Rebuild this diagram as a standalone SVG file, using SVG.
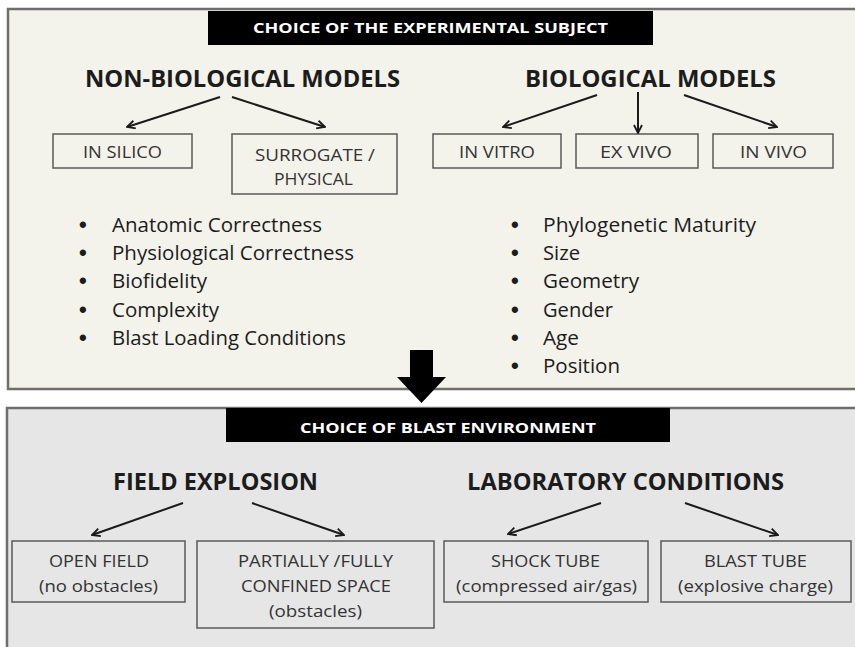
<svg xmlns="http://www.w3.org/2000/svg" width="855" height="647" viewBox="0 0 855 647">
<defs>
<marker id="ah" viewBox="0 0 10 10" refX="9" refY="5" markerWidth="10" markerHeight="10" markerUnits="userSpaceOnUse" orient="auto">
<path d="M1,1 L9,5 L1,9" fill="none" stroke="#1a1a1a" stroke-width="1.8" stroke-linejoin="miter"/>
</marker>
</defs>
<style>
text{font-family:"Open Sans",Lato,"Liberation Sans",sans-serif;fill:#1c1c1c}
.hdr{font-weight:bold;font-size:13.5px;fill:#fff}
.ttl{font-weight:bold;font-size:23.5px}
.box{fill:none;stroke:#5a5a5a;stroke-width:1.5}
.bt{font-size:16.5px;fill:#333}
.li{font-size:20px}
.bul{font-family:"Liberation Sans",sans-serif;font-size:22px;font-weight:bold}
.con line{stroke:#1a1a1a;stroke-width:2;marker-end:url(#ah)}
</style>
<rect width="855" height="647" fill="#ffffff"/>
<g id="panel-subject">
<rect x="8" y="9" width="852" height="380" fill="#f3f2eb" stroke="#6e6e6e" stroke-width="2.5"/>
<rect x="208" y="11" width="445" height="34" fill="#000"/>
<text class="hdr" x="430.5" y="33" text-anchor="middle" textLength="355" lengthAdjust="spacingAndGlyphs">CHOICE OF THE EXPERIMENTAL SUBJECT</text>
</g>
<g id="panel-blast">
<rect x="7" y="408" width="853" height="245" fill="#e6e6e6" stroke="#6e6e6e" stroke-width="2.5"/>
<rect x="226" y="408" width="444" height="34" fill="#000"/>
<text class="hdr" x="448" y="433" text-anchor="middle" textLength="296" lengthAdjust="spacingAndGlyphs">CHOICE OF BLAST ENVIRONMENT</text>
</g>
<g id="big-arrow">
<polygon points="410,350 433,350 433,377 446,377 421.5,403 397,377 410,377" fill="#000"/>
</g>
<g id="non-bio">
<text class="ttl" x="85" y="87" textLength="315" lengthAdjust="spacingAndGlyphs">NON-BIOLOGICAL MODELS</text>
</g>
<g id="bio">
<text class="ttl" x="525" y="87" textLength="251" lengthAdjust="spacingAndGlyphs">BIOLOGICAL MODELS</text>
</g>
<g id="in-silico">
<rect class="box" x="53" y="134" width="139" height="34"/>
<text class="bt" x="83" y="158" textLength="79" lengthAdjust="spacingAndGlyphs">IN SILICO</text>
</g>
<g id="surrogate">
<rect class="box" x="232" y="134" width="165" height="60"/>
<text class="bt" x="255" y="161" textLength="120" lengthAdjust="spacingAndGlyphs">SURROGATE /</text>
<text class="bt" x="274" y="185" textLength="79" lengthAdjust="spacingAndGlyphs">PHYSICAL</text>
</g>
<g id="in-vitro">
<rect class="box" x="433" y="134" width="128" height="34"/>
<text class="bt" x="459" y="158" textLength="76" lengthAdjust="spacingAndGlyphs">IN VITRO</text>
</g>
<g id="ex-vivo">
<rect class="box" x="576" y="134" width="122" height="34"/>
<text class="bt" x="600" y="158" textLength="72" lengthAdjust="spacingAndGlyphs">EX VIVO</text>
</g>
<g id="in-vivo">
<rect class="box" x="713" y="134" width="120" height="34"/>
<text class="bt" x="740" y="158" textLength="67" lengthAdjust="spacingAndGlyphs">IN VIVO</text>
</g>
<g id="list-nonbio">
<text class="bul" x="79" y="232">•</text>
<text class="li" x="112" y="232" textLength="210" lengthAdjust="spacingAndGlyphs">Anatomic Correctness</text>
<text class="bul" x="79" y="260">•</text>
<text class="li" x="112" y="260" textLength="242" lengthAdjust="spacingAndGlyphs">Physiological Correctness</text>
<text class="bul" x="79" y="288">•</text>
<text class="li" x="112" y="288" textLength="95" lengthAdjust="spacingAndGlyphs">Biofidelity</text>
<text class="bul" x="79" y="317">•</text>
<text class="li" x="112" y="317" textLength="107" lengthAdjust="spacingAndGlyphs">Complexity</text>
<text class="bul" x="79" y="345">•</text>
<text class="li" x="112" y="345" textLength="234" lengthAdjust="spacingAndGlyphs">Blast Loading Conditions</text>
</g>
<g id="list-bio">
<text class="bul" x="511" y="232">•</text>
<text class="li" x="543" y="232" textLength="213" lengthAdjust="spacingAndGlyphs">Phylogenetic Maturity</text>
<text class="bul" x="511" y="260">•</text>
<text class="li" x="543" y="260" textLength="37" lengthAdjust="spacingAndGlyphs">Size</text>
<text class="bul" x="511" y="288">•</text>
<text class="li" x="543" y="288" textLength="96" lengthAdjust="spacingAndGlyphs">Geometry</text>
<text class="bul" x="511" y="317">•</text>
<text class="li" x="543" y="317" textLength="70" lengthAdjust="spacingAndGlyphs">Gender</text>
<text class="bul" x="511" y="345">•</text>
<text class="li" x="543" y="345" textLength="36" lengthAdjust="spacingAndGlyphs">Age</text>
<text class="bul" x="511" y="373">•</text>
<text class="li" x="543" y="373" textLength="77" lengthAdjust="spacingAndGlyphs">Position</text>
</g>
<g id="field-explosion">
<text class="ttl" x="113" y="490" textLength="205" lengthAdjust="spacingAndGlyphs">FIELD EXPLOSION</text>
</g>
<g id="lab-conditions">
<text class="ttl" x="467" y="490" textLength="317" lengthAdjust="spacingAndGlyphs">LABORATORY CONDITIONS</text>
</g>
<g id="open-field">
<rect class="box" x="12" y="541" width="173" height="61"/>
<text class="bt" x="49" y="567" textLength="100" lengthAdjust="spacingAndGlyphs">OPEN FIELD</text>
<text class="bt" x="39" y="592" textLength="119" lengthAdjust="spacingAndGlyphs">(no obstacles)</text>
</g>
<g id="confined-space">
<rect class="box" x="197" y="541" width="237" height="87"/>
<text class="bt" x="238" y="567" textLength="155" lengthAdjust="spacingAndGlyphs">PARTIALLY /FULLY</text>
<text class="bt" x="241" y="592" textLength="150" lengthAdjust="spacingAndGlyphs">CONFINED SPACE</text>
<text class="bt" x="269" y="617" textLength="93" lengthAdjust="spacingAndGlyphs">(obstacles)</text>
</g>
<g id="shock-tube">
<rect class="box" x="444" y="541" width="204" height="61"/>
<text class="bt" x="491" y="567" textLength="109" lengthAdjust="spacingAndGlyphs">SHOCK TUBE</text>
<text class="bt" x="456" y="592" textLength="181" lengthAdjust="spacingAndGlyphs">(compressed air/gas)</text>
</g>
<g id="blast-tube">
<rect class="box" x="661" y="541" width="190" height="61"/>
<text class="bt" x="704" y="567" textLength="103" lengthAdjust="spacingAndGlyphs">BLAST TUBE</text>
<text class="bt" x="678" y="592" textLength="155" lengthAdjust="spacingAndGlyphs">(explosive charge)</text>
</g>
<g id="connectors" class="con">
<line x1="220" y1="97" x2="127" y2="127"/>
<line x1="232" y1="97" x2="325" y2="127"/>
<line x1="597" y1="95" x2="503" y2="127"/>
<line x1="638" y1="92" x2="638" y2="133"/>
<line x1="684" y1="95" x2="777" y2="127"/>
<line x1="183" y1="503" x2="92" y2="535"/>
<line x1="252" y1="503" x2="344" y2="535"/>
<line x1="601" y1="503" x2="508" y2="534"/>
<line x1="685" y1="503" x2="778" y2="535"/>
</g>
</svg>
